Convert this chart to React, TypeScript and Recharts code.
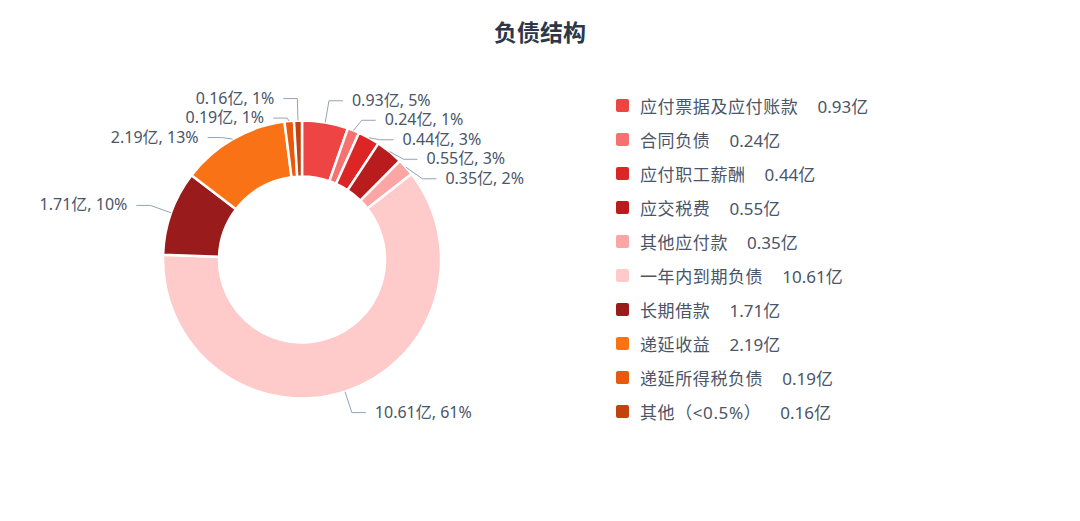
import React from 'react';
import { PieChart, Pie, Cell, Legend } from 'recharts';

const names = ['应付票据及应付账款', '合同负债', '应付职工薪酬', '应交税费', '其他应付款', '一年内到期负债', '长期借款', '递延收益', '递延所得税负债', '其他（<0.5%）'];
const values = [0.93, 0.24, 0.44, 0.55, 0.35, 10.61, 1.71, 2.19, 0.19, 0.16];
const colors = ['#ef4444', '#f87171', '#dc2626', '#b91c1c', '#fca5a5', '#fecaca', '#991b1b', '#f97316', '#ea580c', '#c2410c'];

const data = names.map((name, i) => ({ name, value: values[i] }));

const CX = 302;
const CY = 259.5;
const R_IN = 83;
const R_OUT = 139;
const L1 = 22; // radial part of the label line
const L2 = 14; // horizontal part
const GAP = 19.5; // min vertical distance between labels
const RAD = Math.PI / 180;
const FONT = '"Noto Sans", "Noto Sans CJK SC", sans-serif';

// push overlapping labels down on each side (echarts-like)
const labelY = (() => {
    const total = values.reduce((a, b) => a + b, 0);
    let acc = 0;
    const items = values.map((v, i) => {
        const mid = ((acc + v / 2) / total) * 360 * RAD;
        acc += v;
        return { i, side: Math.sin(mid) >= 0 ? 1 : -1, y: CY - (R_OUT + L1) * Math.cos(mid) };
    });
    const out: number[] = [];
    [1, -1].forEach(side => {
        const list = items.filter(it => it.side === side).sort((a, b) => a.y - b.y);
        let last = -Infinity;
        list.forEach(it => {
            const y = Math.max(it.y, last + GAP);
            out[it.i] = y;
            last = y;
        });
    });
    return out;
})();

const renderLabel = (props: any) => {
    const { cx, cy, midAngle, outerRadius, index, value, percent } = props;
    const cos = Math.cos(midAngle * RAD);
    const sin = Math.sin(midAngle * RAD);
    const side = cos >= 0 ? 1 : -1;
    const x0 = cx + outerRadius * cos;
    const y0 = cy - outerRadius * sin;
    const x1 = cx + (outerRadius + L1) * cos;
    const y1 = labelY[index];
    const x2 = x1 + side * L2;
    return (
        <g>
            <polyline points={`${x0},${y0} ${x1},${y1} ${x2},${y1}`} fill="none" stroke="#94a3b8" strokeWidth={1} />
            <text
                x={x2 + side * 9}
                y={y1 - 1}
                textAnchor={side > 0 ? 'start' : 'end'}
                dominantBaseline="central"
                fill="#4a5568"
                fontSize={16}
                fontFamily={FONT}
            >
                {`${value}亿, ${Math.round(percent * 100)}%`}
            </text>
        </g>
    );
};

const renderLegend = () => (
    <div style={{ fontFamily: FONT, fontSize: 17, color: '#4a5568' }}>
        {data.map((d, i) => (
            <div key={d.name} style={{ display: 'flex', alignItems: 'center', height: 34.1 }}>
                <span style={{ width: 13, height: 13, borderRadius: 2, background: colors[i], marginRight: 11, flexShrink: 0 }} />
                <span style={{ letterSpacing: 0.6 }}>{d.name}</span>
                <span style={{ marginLeft: 19 }}>{`${d.value}亿`}</span>
            </div>
        ))}
    </div>
);

export default function App() {
    return (
        <div style={{ position: 'absolute', left: 0, top: 0, width: 1080, height: 521, background: '#fff' }}>
            <div
                style={{
                    position: 'absolute',
                    top: 16,
                    left: 0,
                    width: 1080,
                    textAlign: 'center',
                    fontFamily: FONT,
                    fontWeight: 700,
                    fontSize: 23,
                    color: '#2d3748',
                    lineHeight: '32px',
                }}
            >
                负债结构
            </div>
            <PieChart width={1080} height={521} margin={{ top: 0, right: 0, bottom: 0, left: 0 }}>
                <Pie
                    data={data}
                    dataKey="value"
                    nameKey="name"
                    cx={CX}
                    cy={CY}
                    innerRadius={R_IN}
                    outerRadius={R_OUT}
                    startAngle={90}
                    endAngle={-270}
                    stroke="#fff"
                    strokeWidth={2.5}
                    label={renderLabel}
                    labelLine={false}
                    isAnimationActive={false}
                >
                    {data.map((d, i) => (
                        <Cell key={d.name} fill={colors[i]} />
                    ))}
                </Pie>
                <Legend
                    content={renderLegend}
                    layout="vertical"
                    wrapperStyle={{ position: 'absolute', left: 616, top: 88, width: 400 }}
                />
            </PieChart>
        </div>
    );
}
